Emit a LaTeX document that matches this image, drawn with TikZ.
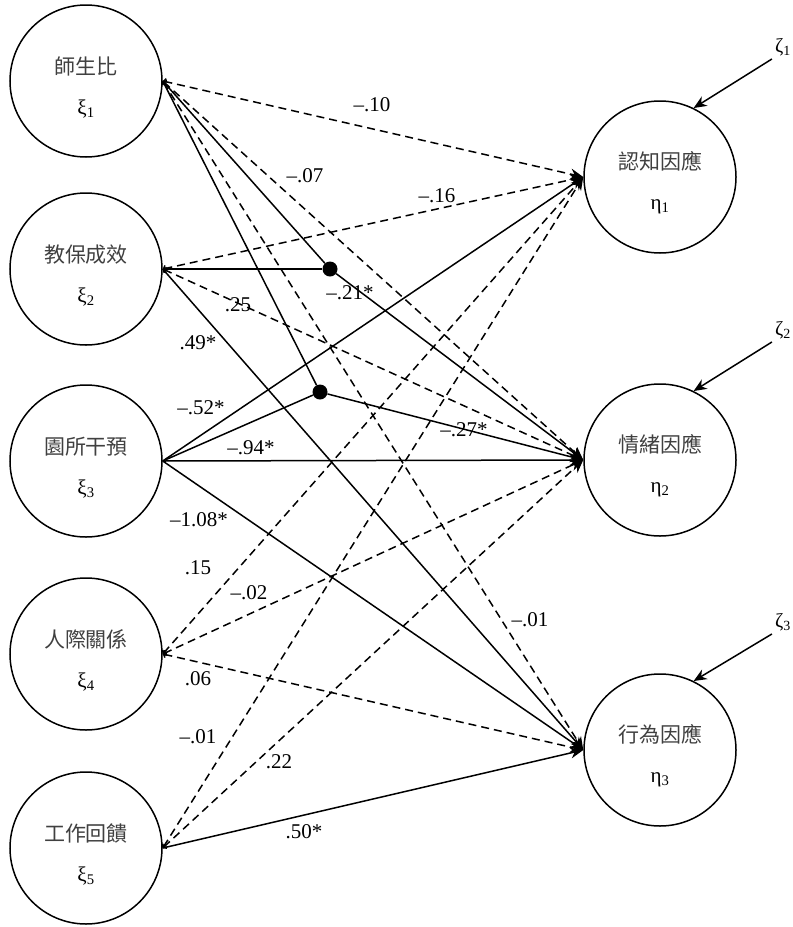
\documentclass[tikz,border=0pt]{standalone}
\usepackage{fontspec}
\setmainfont{Liberation Serif}
\newfontfamily\cjk{Noto Sans CJK TC}
\usepackage{tikz}
\usetikzlibrary{positioning}
\usetikzlibrary{arrows.meta}
\tikzset{
   latent/.style = {%
    shape=circle,
    draw,
    line width=1.5pt,
    minimum size=152pt,
    inner sep=0pt,
    align=center,
    font=\fontsize{21}{40}\selectfont},
   dot/.style = {%
    shape=circle,
    fill,
    inner sep=0pt,
    minimum size=15pt},
   link/.style = {%
    draw,
    line width=1.5pt},
   spath/.style = {%
    link,
    -{Stealth[length=13pt,width=11pt]}},
   nspath/.style = {%
    link,
    dash pattern=on 8pt off 5pt,
    {Straight Barb[length=2pt,width=6pt]}-{Stealth[length=13pt,width=11pt]}},
   coef/.style = {%
    font=\fontsize{21}{21}\selectfont},
   resid/.style = {%
    inner sep=3pt,
    font=\fontsize{20}{20}\selectfont},
    }
\newcommand{\cn}[1]{\rule{0pt}{30pt}{\cjk\color{black!75}#1}}

\begin{document}
\begin{tikzpicture}[x=1pt,y=-1pt]
\useasboundingbox (0,0) rectangle (793,927);

% exogenous
\node[latent] (x1) at (86,81)  {\cn{師生比}\\ξ\textsubscript{1}};
\node[latent] (x2) at (86,269) {\cn{教保成效}\\ξ\textsubscript{2}};
\node[latent] (x3) at (86,461) {\cn{園所干預}\\ξ\textsubscript{3}};
\node[latent] (x4) at (86,654) {\cn{人際關係}\\ξ\textsubscript{4}};
\node[latent] (x5) at (86,848) {\cn{工作回饋}\\ξ\textsubscript{5}};

% endogenous
\node[latent] (e1) at (660,177) {\cn{認知因應}\\η\textsubscript{1}};
\node[latent] (e2) at (660,460) {\cn{情緒因應}\\η\textsubscript{2}};
\node[latent] (e3) at (660,750) {\cn{行為因應}\\η\textsubscript{3}};

\node[resid] (z1) at (783,47)  {ζ\textsubscript{1}};
\node[resid] (z2) at (783,330) {ζ\textsubscript{2}};
\node[resid] (z3) at (783,622) {ζ\textsubscript{3}};

% interaction terms
\node[dot] (d1) at (330,269) {};
\node[dot] (d2) at (320,392) {};

\draw[nspath] (x1.east) -- (e1.west);
\draw[nspath] (x1.east) -- (e2.west);
\draw[nspath] (x1.east) -- (e3.west);
\draw[link] (x1.east) -- (d1);
\draw[link] (x1.east) -- (d2);

\draw[link] (x2.east) -- (d1);
\draw[nspath] (x2.east) -- (e1.west);
\draw[nspath] (x2.east) -- (e2.west);
\draw[spath] (x2.east) -- (e3.west);

\draw[spath] (x3.east) -- (e1.west);
\draw[link] (x3.east) -- (d2);
\draw[spath] (x3.east) -- (e2.west);
\draw[spath] (x3.east) -- (e3.west);

\draw[nspath] (x4.east) -- (e1.west);
\draw[nspath] (x4.east) -- (e2.west);
\draw[nspath] (x4.east) -- (e3.west);

\draw[nspath] (x5.east) -- (e1.west);
\draw[nspath] (x5.east) -- (e2.west);
\draw[spath] (x5.east) -- (e3.west);

\draw[spath] (d1) -- (e2.west);
\draw[spath] (d2) -- (e2.west);

\draw[spath] (z1.south west) -- (e1.64);
\draw[spath] (z2.south west) -- (e2.64);
\draw[spath] (z3.south west) -- (e3.64);

% coefficients
\node[coef] (c11) at (372,105) {–.10};
\node[coef] (c12) at (305,176) {–.07};
\node[coef] (c21) at (437,196) {–.16};
\node[coef] (cd1) at (350,293) {–.21*};
\node[coef] (c22) at (238,305) {.25};
\node[coef] (c23) at (198,343) {.49*};
\node[coef] (c31) at (201,408) {–.52*};
\node[coef] (c32) at (251,448) {–.94*};
\node[coef] (c33) at (199,520) {–1.08*};
\node[coef] (c41) at (198,568) {.15};
\node[coef] (c42) at (249,593) {–.02};
\node[coef] (c43) at (198,679) {.06};
\node[coef] (c51) at (198,737) {–.01};
\node[coef] (c52) at (279,762) {.22};
\node[coef] (c53) at (304,832) {.50*};
\node[coef] (cd2) at (464,430) {–.27*};
\node[coef] (c13) at (530,620) {–.01};
\end{tikzpicture}
\end{document}
